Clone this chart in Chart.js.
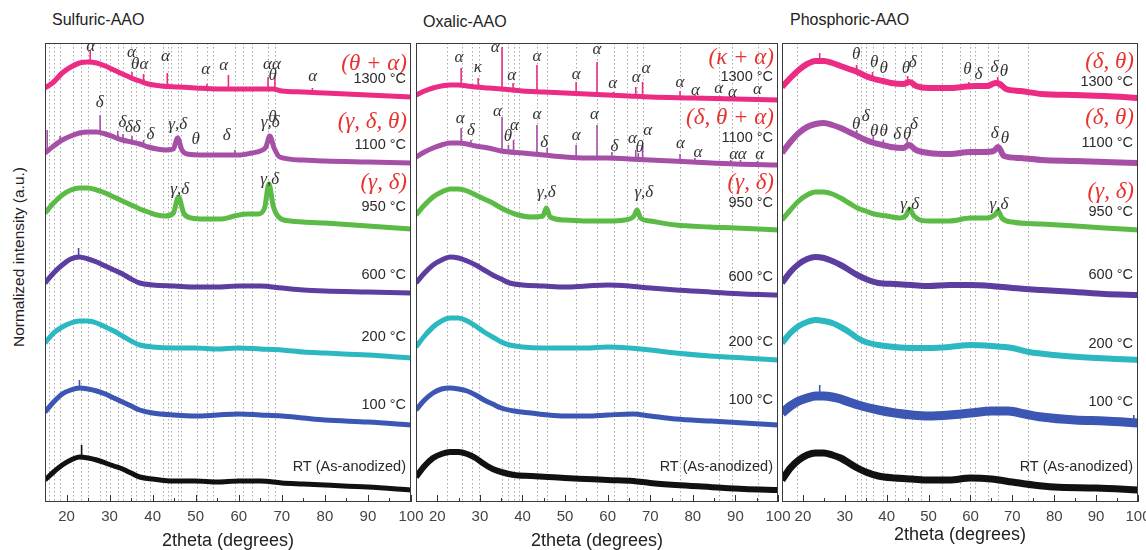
<!DOCTYPE html>
<html><head><meta charset="utf-8">
<script src="https://cdn.jsdelivr.net/npm/chart.js@4.4.1/dist/chart.umd.min.js"></script>
<style>
html,body{margin:0;padding:0;background:#fff;overflow:hidden;width:1146px;height:550px;position:relative}
canvas{position:absolute;left:0;top:0}
.ttl{position:absolute;font:16px 'Liberation Sans',Arial,sans-serif;color:#222;white-space:nowrap}
#ylab{position:absolute;left:19px;top:257px;transform:translate(-50%,-50%) rotate(-90deg);font:15.5px 'Liberation Sans',Arial,sans-serif;color:#222;white-space:nowrap}
</style></head><body>
<div class="ttl" style="left:52px;top:11px">Sulfuric-AAO</div>
<div class="ttl" style="left:423px;top:13px">Oxalic-AAO</div>
<div class="ttl" style="left:790px;top:11px">Phosphoric-AAO</div>
<div id="ylab">Normalized intensity (a.u.)</div>
<canvas id="c1" width="1200" height="550"></canvas>
<canvas id="c2" width="1200" height="550"></canvas>
<canvas id="c3" width="1200" height="550"></canvas>
<script>
// ---------- DATA (2theta in degrees, offset intensity in a.u.) ----------
const TICKS = [20,30,40,50,60,70,80,90,100];
const TEMPS = ['1300 °C','1100 °C','950 °C','600 °C','200 °C','100 °C','RT (As-anodized)'];

// Sulfuric-AAO
const S_1300 = [[15,414],[17,420],[19,429],[21,435],[23,439],[25,440],[27,439],[29,436],[31,432],[33,428],[35,424],[37,421],[39,418],[42,416],[46,415],[50,414],[55,413],[60,413],[65,413],[68,413],[70,411],[75,410],[80,409],[85,408],[90,407],[95,406],[100,405]];
const S_1100 = [[15,349],[17,356],[19,362],[21,366],[23,369],[25,370],[27,370],[29,368],[31,365],[33,362],[35,360],[37,358],[39,355],[41,353],[43,352],[44.8,353],[45.8,364],[46.8,352],[48,348],[52,347],[56,347],[60,347],[63,349],[65,351],[66.3,355],[67.2,366],[68.2,354],[69.5,345],[75,342],[80,341],[90,340],[100,339]];
const S_950 = [[15,289],[17,299],[19,307],[21,312],[23,314],[25,314],[27,312],[29,309],[31,305],[33,301],[35,297],[37,293],[39,290],[41,287],[43,286],[44.8,289],[46,305],[47.2,289],[49,284],[52,283],[56,283],[59,286],[62,288],[64.5,288],[66,294],[67,318],[68,296],[69.5,284],[72,281],[80,279],[90,276],[100,273]];
const S_600 = [[15,219],[17,229],[19,237],[21,243],[23,245],[25,243],[27,240],[29,236],[31,232],[33,228],[35,223],[37,219],[40,217],[45,216],[50,215],[55,215],[60,216],[65,216],[70,214],[75,212],[80,211],[90,210],[100,209]];
const S_200 = [[15,159],[17,169],[19,175],[21,179],[23,181],[25,181],[27,179],[29,175],[31,171],[33,166],[35,161],[37,157],[40,155],[45,154],[50,154],[55,153],[60,154],[65,153],[70,152],[75,150],[80,149],[90,147],[100,144]];
const S_100 = [[15,90],[17,100],[19,108],[21,112],[23,114],[25,113],[27,111],[29,108],[31,104],[33,100],[35,96],[37,92],[40,89],[45,87],[50,86],[55,87],[60,88],[65,87],[70,86],[75,84],[80,82],[90,80],[100,77]];
const S_RT = [[15,22],[17,30],[19,37],[21,42],[23,45],[25,44],[27,42],[29,39],[31,36],[33,33],[35,29],[37,25],[40,23],[45,21],[50,21],[55,20],[60,21],[65,21],[70,19],[75,18],[80,17],[90,15],[100,12]];
// sharp reflections: [2theta, base, tip]
const S_PK_1300 = [[25.5,440,452],[35.2,424,430],[37.9,421,428],[43.4,416,429],[52.6,414,418],[57.6,413,427],[66.8,413,425],[68.4,413,426],[77.1,410,414]];
const S_PK_1100 = [[15.5,349,372],[18.5,360,366],[27.8,370,387],[31.9,366,371],[33.1,363,368],[35.2,360,366],[37.9,357,362],[59.1,347,352]];
const S_PK_600 = [[22.8,245,254]];
const S_PK_100 = [[23,114,122]];
const S_PK_RT = [[23.5,45,57]];

// Oxalic-AAO
const O_1300 = [[15,407],[17,411],[19,414],[21,416],[23,417],[25,417],[27,416],[29,415],[32,414],[35,413],[40,411],[45,410],[50,409],[55,408],[60,407],[65,406],[70,405],[80,404],[90,403],[100,402]];
const O_1100 = [[15,345],[17,350],[19,354],[21,357],[23,359],[25,359],[27,358],[29,356],[32,354],[35,351],[40,349],[45,347],[50,345],[55,344],[60,344],[65,343],[70,342],[80,340],[90,338],[100,337]];
const O_950 = [[15,287],[17,297],[19,305],[21,310],[23,313],[25,313],[27,311],[29,307],[31,303],[33,299],[35,294],[37,290],[39,287],[42,285],[44.8,286],[45.6,294],[46.5,285],[50,282],[55,281],[60,281],[64,282],[66.2,286],[66.9,292],[67.7,284],[70,281],[76,277],[84,275],[90,274],[100,272]];
const O_600 = [[15,219],[17,229],[19,237],[21,242],[23,245],[25,244],[27,241],[29,237],[31,232],[33,227],[35,223],[37,219],[40,217],[45,216],[50,215],[55,216],[60,217],[65,216],[70,214],[76,212],[84,210],[92,208],[100,207]];
const O_200 = [[15,155],[17,166],[19,175],[21,181],[23,184],[25,184],[27,181],[29,176],[31,170],[33,165],[35,160],[37,157],[40,155],[45,154],[50,154],[55,154],[60,155],[65,154],[70,152],[76,149],[84,146],[92,144],[100,142]];
const O_100 = [[15,92],[17,102],[19,109],[21,113],[23,114],[25,113],[27,111],[29,107],[31,102],[33,98],[35,94],[38,91],[42,89],[46,87],[50,86],[55,86],[60,87],[66,88],[70,86],[76,83],[84,81],[92,79],[100,77]];
const O_RT = [[15,25],[17,36],[19,44],[21,48],[23,50],[25,50],[27,48],[29,44],[31,38],[33,33],[35,30],[38,27],[42,26],[46,25],[50,24],[55,23],[60,22],[66,21],[70,19],[76,17],[84,15],[92,13],[100,12]];
const O_PK_1300 = [[25.6,417,434],[29.6,415,424],[35.2,413,455],[37.8,412,419],[43.4,410,437],[52.6,408,420],[57.5,408,440],[61.3,407,410],[66.6,406,415],[68.2,405,420],[77,404,411],[80.5,404,407],[84.3,403,406],[86.4,403,406],[88.9,403,405],[91.2,403,405],[95.2,402,404]];
const O_PK_1100 = [[25.6,359,374],[27.9,357,362],[35.2,351,385],[36.7,351,357],[37.9,350,362],[43.4,348,377],[45.8,347,354],[52.6,345,357],[57.5,344,377],[61,344,350],[66.6,343,352],[67.2,343,349],[68.2,343,356],[77,341,348],[80.5,340,344],[88.9,338,342],[91.2,338,342],[95.2,337,341]];

// Phosphoric-AAO
const P_1300 = [[15,415],[17,424],[19,432],[21,438],[23,441],[25,441],[27,439],[29,436],[31,433],[33,430],[35,426],[37,423],[39,421],[41,419],[44,418],[45.5,420],[47,416],[50,414],[55,414],[58,415],[61,416],[64,416],[66,419],[67,418],[68.5,413],[72,411],[77,408],[85,407],[92,406],[100,404]];
const P_1100 = [[15,349],[17,360],[19,369],[21,375],[23,378],[25,379],[27,377],[29,374],[31,370],[33,366],[35,362],[37,359],[39,357],[41,355],[44,354],[45.3,357],[47,352],[50,349],[55,348],[60,350],[63,350],[65.5,351],[66.6,355],[68,346],[72,344],[77,342],[85,341],[92,340],[100,339]];
const P_950 = [[15,282],[17,292],[19,301],[21,307],[23,310],[25,310],[27,308],[29,304],[31,299],[33,294],[35,291],[37,288],[40,286],[43,284],[44.5,286],[45.5,293],[46.5,286],[50,281],[55,281],[60,284],[64,284],[65.8,287],[66.6,291],[67.5,284],[70,280],[77,278],[85,276],[92,274],[100,272]];
const P_600 = [[15,219],[17,230],[19,238],[21,243],[23,245],[25,244],[27,241],[29,237],[31,232],[33,227],[35,223],[38,219],[42,218],[46,217],[50,216],[55,217],[60,217],[65,216],[70,214],[77,212],[85,210],[92,208],[100,207]];
const P_200 = [[15,159],[17,169],[19,176],[21,180],[23,182],[25,181],[27,179],[29,175],[31,170],[33,164],[35,160],[38,157],[42,155],[46,154],[50,154],[55,155],[60,157],[65,156],[70,154],[74,150],[80,147],[90,144],[100,142]];
const P_100 = [[15,89],[17,96],[19,101],[21,104],[23,106],[25,106],[27,105],[29,103],[31,100],[34,96],[38,92],[42,89],[46,87],[50,86],[55,87],[60,89],[65,91],[69,91],[73,88],[77,85],[85,82],[92,81],[100,79]];
const P_RT = [[15,22],[17,34],[19,42],[21,47],[23,49],[25,49],[27,47],[29,44],[31,39],[33,34],[35,30],[38,26],[42,24],[46,23],[50,22],[55,22],[60,24],[65,23],[70,20],[75,17],[80,15],[90,14],[100,12]];
const P_PK_1300 = [[24,441,449],[32.8,431,437],[36.6,424,430],[39.1,421,424],[45,418,426],[59.6,415,420],[61.6,416,418],[64,416,419],[66.5,419,425]];
const P_PK_1100 = [[32.8,368,372],[36.8,360,367],[39.2,358,362],[44.9,354,364],[66.6,351,357]];
const P_PK_100 = [[24,106,117],[99,79,87]];

// reference-line positions (2theta)
const S_REFS = [15.9,17.2,18.5,21.6,23.4,25,27.7,29.2,30,31.9,33.1,35,36.2,37.9,39.5,42.4,43.6,44.3,46,46.7,50.2,52.6,54,59.1,61,63,66.8,68.4];
const O_REFS = [22.2,25.8,28.1,29.7,35.2,36.7,37.9,39.1,43.4,45.8,52.6,57.5,61.4,64.6,66.9,68.2,77,86.1,89.3,95.2];
const P_REFS = [18.5,32.8,33.9,35,36.8,39.2,42,44.4,46,48.1,53.1,57.6,59.9,61.1,64.2,66.5,73.8];

// phase labels [2theta, height, text]
const S_LABELS = [[25.6,455,'α'],[35.1,449,'α'],[37,437,'θα'],[43,445,'α'],[52.3,432,'α'],[56.5,436,'α'],[67.7,437,'αα'],[67.9,426,'θ'],[77.2,425,'α'],
 [27.7,399,'δ'],[33,379,'δ'],[35.4,374,'δδ'],[39.5,367,'δ'],[45.8,377,'γ,δ'],[50,362,'θ'],[57.2,366,'δ'],[67.3,379,'γ,δ'],[67.8,384,'θ'],
 [46.3,312,'γ,δ'],[67.2,322,'γ,δ']];
const O_LABELS = [[25.1,444,'α'],[29.5,434,'κ'],[33.6,454,'α'],[37.5,426,'α'],[43.4,445,'α'],[52.6,427,'α'],[57.5,452,'α'],[61.2,418,'α'],[66.7,424,'α'],[69,433,'α'],[77,419,'α'],[80.6,411,'α'],[86.1,413,'α'],[89.3,409,'α'],[95.2,412,'α'],
 [25.4,383,'α'],[27.9,371,'δ'],[34.1,390,'α'],[36.6,365,'θ'],[38.1,376,'α'],[43.4,387,'α'],[45.1,359,'δ'],[52.6,366,'α'],[56.9,387,'α'],[61.6,355,'δ'],[65.8,363,'α'],[67.5,354,'θ'],[69.4,371,'α'],[77.1,358,'α'],[81.2,349,'α'],[89.6,347,'α'],[91.6,347,'α'],[95.7,347,'α'],
 [45.6,309,'γ,δ'],[68.5,309,'γ,δ']];
const P_LABELS = [[32.7,447,'θ'],[37,439,'θ'],[39.3,433,'θ'],[44.6,433,'θ'],[46.2,439,'δ'],[59.3,432,'θ'],[61.9,427,'δ'],[65.7,434,'δ'],[68,430,'θ'],
 [32.7,377,'θ'],[35,385,'δ'],[37,370,'θ'],[39.3,370,'θ'],[42.5,367,'δ'],[44.9,367,'θ'],[46.5,377,'δ'],[65.8,368,'δ'],[68.2,363,'θ'],
 [45.5,297,'γ,δ'],[66.8,297,'γ,δ']];

// phase groups [text, height]
const S_PHASES = [['(θ + α)',438],['(γ, δ, θ)',380],['(γ, δ)',319]];
const O_PHASES = [['(κ + α)',444],['(δ, θ + α)',384],['(γ, δ)',319]];
const P_PHASES = [['(δ, θ)',440],['(δ, θ)',384],['(γ, δ)',310]];

// temperature-label heights
const S_TEMPY = [423,357,295,227,165,97,35];
const O_TEMPY = [425,364,299,225,160,102,35];
const P_TEMPY = [420,359,290,227,158,100,35];

// ---------- DRAWING ----------
const COLORS = ['#ec2c84','#a64fa7','#5cba46','#5b3ea0','#2bb8c0','#3b56b3','#111111'];
const PAGE_W = 1200, TOP = 43, BOTTOM = 502;

function makePanel(id, left, right, traces, peaks, widths, refs, labels, phases, tempY, titleBottom){
  const datasets = [];
  traces.forEach((tr,i)=>{
    datasets.push({data: tr.map(([x,y])=>({x,y})), borderColor: COLORS[i], borderWidth: widths[i],
      pointRadius:0, cubicInterpolationMode:'monotone', fill:false});
    const pk = peaks[i] || [];
    if (pk.length){
      const d = [];
      pk.forEach(([x,b,t])=>{ d.push({x,y:b},{x,y:t},{x,y:null}); });
      datasets.push({data:d, borderColor: COLORS[i], borderWidth:1.6, pointRadius:0, tension:0, spanGaps:false, fill:false});
    }
  });
  const deco = {
    id:'deco',
    beforeDatasetsDraw(chart){
      const {ctx, chartArea:a, scales:{x}} = chart;
      ctx.save();
      ctx.strokeStyle='#a8a8a8'; ctx.lineWidth=1; ctx.setLineDash([1.5,2.5]);
      refs.forEach(d=>{ const px=Math.round(x.getPixelForValue(d))+0.5; ctx.beginPath(); ctx.moveTo(px,a.top); ctx.lineTo(px,a.bottom); ctx.stroke(); });
      ctx.restore();
    },
    afterDatasetsDraw(chart){
      const {ctx, chartArea:a, scales:{x,y}} = chart;
      ctx.save();
      ctx.strokeStyle='#333'; ctx.lineWidth=1;
      for(let v=20; v<=100; v+=5){ const px=Math.round(x.getPixelForValue(v))+0.5; const len=(v%10===0)?7:4;
        ctx.beginPath(); ctx.moveTo(px,a.bottom); ctx.lineTo(px,a.bottom-len); ctx.stroke(); }
      ctx.strokeStyle='#3a3a3a';
      ctx.strokeRect(a.left+0.5, a.top+0.5, a.right-a.left-1, a.bottom-a.top-1);
      ctx.fillStyle='#333'; ctx.font="italic 17px 'Liberation Serif'"; ctx.textAlign='center'; ctx.textBaseline='middle';
      labels.forEach(([d,v,t])=>ctx.fillText(t, x.getPixelForValue(d), y.getPixelForValue(v)));
      ctx.fillStyle='#e8322f'; ctx.font="italic 23px 'Liberation Serif'"; ctx.textAlign='right';
      phases.forEach(([t,v])=>ctx.fillText(t, a.right-4, y.getPixelForValue(v)));
      ctx.fillStyle='#2a2a2a'; ctx.font="14.5px 'Liberation Sans'";
      tempY.forEach((v,i)=>ctx.fillText(TEMPS[i], a.right-5, y.getPixelForValue(v)));
      ctx.restore();
    }
  };
  new Chart(document.getElementById(id), {
    type:'line',
    data:{datasets},
    options:{
      responsive:false, animation:false, events:[],
      layout:{padding:{left:left, right:PAGE_W-right, top:TOP, bottom:0}},
      plugins:{legend:{display:false}, tooltip:{enabled:false}},
      scales:{
        x:{type:'linear', min:15, max:100,
          afterBuildTicks:s=>{ s.ticks = TICKS.map(v=>({value:v})); },
          afterFit:s=>{ s.height = 550-BOTTOM; },
          grid:{display:false, drawTicks:false}, border:{display:false},
          ticks:{autoSkip:false, maxRotation:0, padding:6, color:'#444', font:{family:'Liberation Sans', size:15}},
          title:{display:true, text:'2theta (degrees)', color:'#222', font:{family:'Liberation Sans', size:18, lineHeight:1}, padding:{top:0,bottom:titleBottom}}
        },
        y:{type:'linear', min:0, max:BOTTOM-TOP, display:false}
      }
    },
    plugins:[deco]
  });
}

makePanel('c1', 45, 411, [S_1300,S_1100,S_950,S_600,S_200,S_100,S_RT],
  [S_PK_1300,S_PK_1100,[],S_PK_600,[],S_PK_100,S_PK_RT], [5,5,5,5,5,5,5],
  S_REFS, S_LABELS, S_PHASES, S_TEMPY, 0);
makePanel('c2', 416, 778, [O_1300,O_1100,O_950,O_600,O_200,O_100,O_RT],
  [O_PK_1300,O_PK_1100,[],[],[],[],[]], [5,5,5,5,5,5,6],
  O_REFS, O_LABELS, O_PHASES, O_TEMPY, 0);
makePanel('c3', 782, 1138, [P_1300,P_1100,P_950,P_600,P_200,P_100,P_RT],
  [P_PK_1300,P_PK_1100,[],[],[],P_PK_100,[]], [6,6,5,6,6,9,7],
  P_REFS, P_LABELS, P_PHASES, P_TEMPY, 6);
</script>
</body></html>
